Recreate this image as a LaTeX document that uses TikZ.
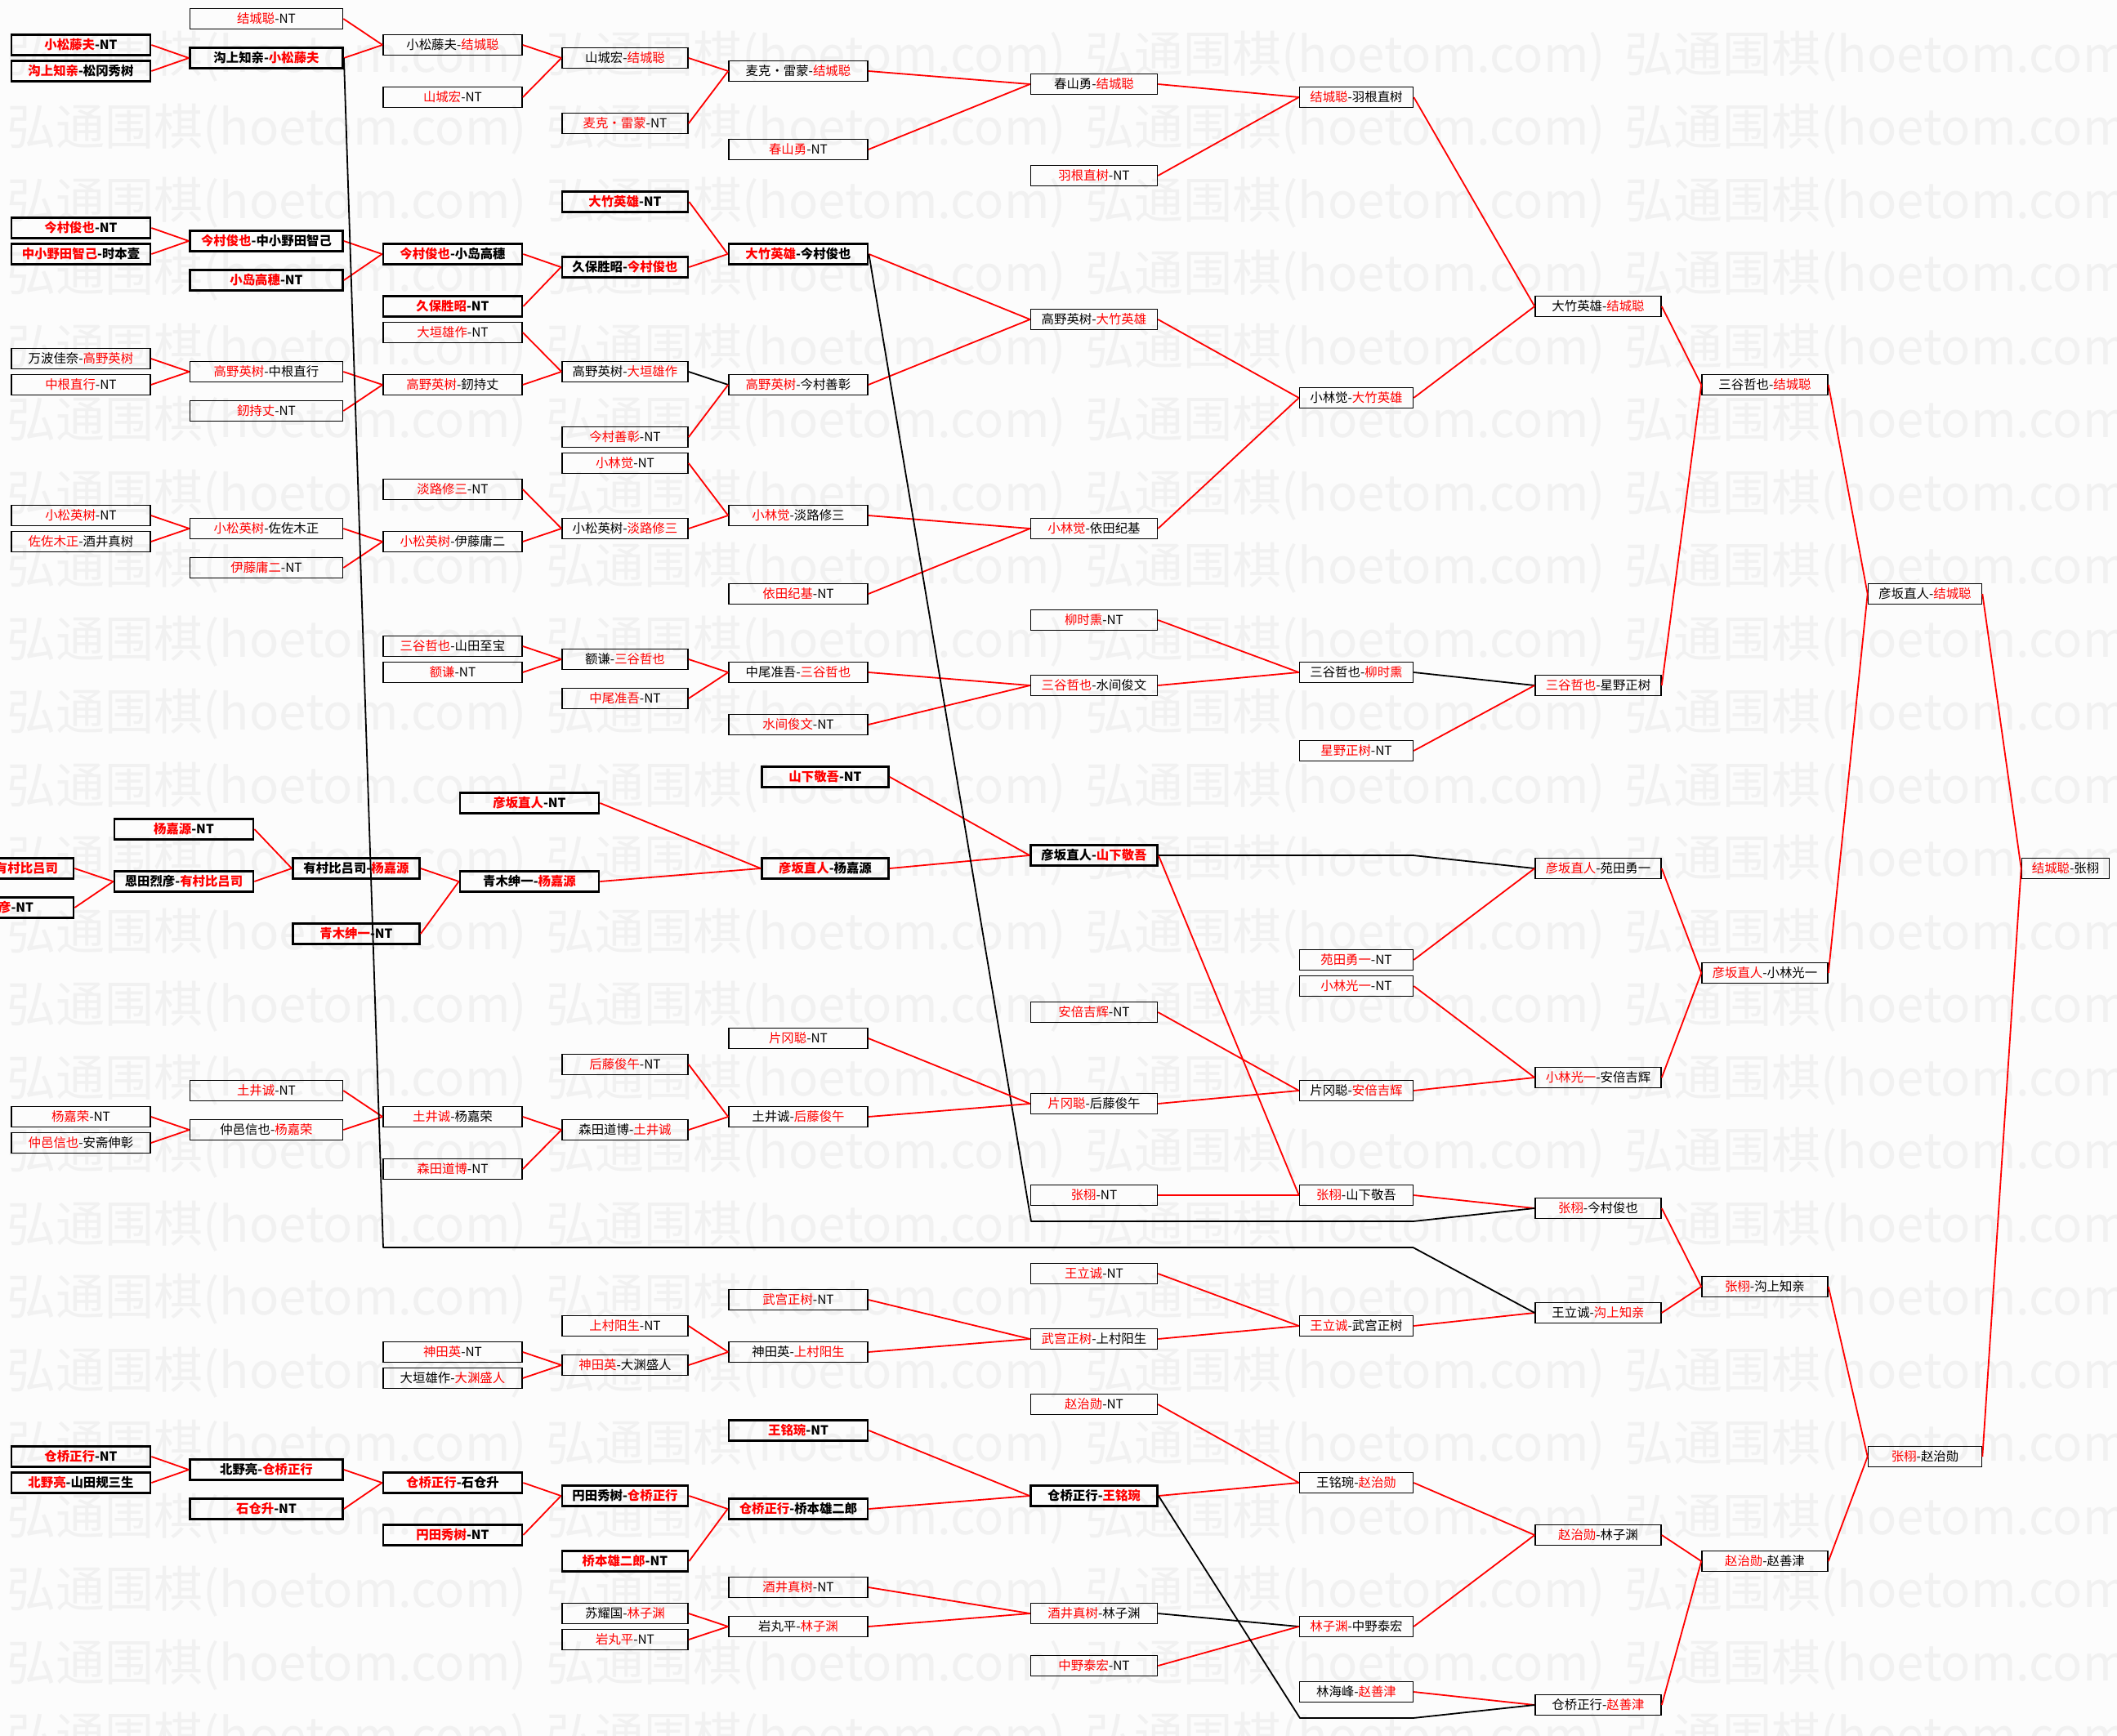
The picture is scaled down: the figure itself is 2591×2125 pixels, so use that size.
\documentclass[tikz,border=0pt]{standalone}
\usepackage{fontspec}
\setmainfont{Noto Sans CJK SC}
\usepackage{tikz}
\definecolor{cwin}{HTML}{FF0000}
\definecolor{cmark}{HTML}{F1F1F1}
\definecolor{cpaper}{HTML}{FCFCFC}
\newcommand{\wn}[1]{\textcolor{cwin}{#1}}
\newcommand{\mfont}{\fontsize{7.7pt}{9pt}\selectfont}
\tikzset{
  box/.style={draw, line width=0.8pt, inner sep=0pt, minimum height=12.5pt, font=\mfont},
  topb/.style={box, line width=1.4pt, font=\mfont\bfseries},
  colA/.style={minimum width=85pt},
  colB/.style={minimum width=93.5pt},
  colC/.style={minimum width=85pt},
  colD/.style={minimum width=77pt},
  colE/.style={minimum width=85pt},
  colF/.style={minimum width=77.5pt},
  colG/.style={minimum width=69.5pt},
  colH/.style={minimum width=77pt},
  colI/.style={minimum width=77pt},
  colJ/.style={minimum width=69.5pt},
  colK/.style={minimum width=53.5pt},
  rl/.style={draw=cwin, line width=0.9pt},
  bl/.style={draw=black, line width=0.9pt, line join=round},
  wm/.style={anchor=west, inner sep=0pt, text=cmark, font=\fontsize{30pt}{32pt}\selectfont},
}
\begin{document}
\begin{tikzpicture}[x=0.5pt,y=-0.5pt]
\useasboundingbox (0,0) rectangle (2591,2125);
\fill[cpaper] (0,0) rectangle (2591,2125);
\foreach \i in {0,...,3}
  \foreach \j in {0,...,23}
    \node[wm] (wm\i-\j) at (8+660*\i,69+89.5*\j) {弘通围棋(hoetom.com)};

\node[topb,colA] (a1) at (99,55) {\wn{小松藤夫}-NT};
\node[topb,colA] (a2) at (99,87) {\wn{沟上知亲}-松冈秀树};
\node[topb,colA] (a3) at (99,279) {\wn{今村俊也}-NT};
\node[topb,colA] (a4) at (99,311) {\wn{中小野田智己}-时本壹};
\node[box,colA] (a5) at (99,439) {万波佳奈-\wn{高野英树}};
\node[box,colA] (a6) at (99,471) {\wn{中根直行}-NT};
\node[box,colA] (a7) at (99,631) {\wn{小松英树}-NT};
\node[box,colA] (a8) at (99,663) {\wn{佐佐木正}-酒井真树};
\node[box,colA] (a9) at (99,1367) {\wn{杨嘉荣}-NT};
\node[box,colA] (a10) at (99,1399) {\wn{仲邑信也}-安斋伸彰};
\node[topb,colA] (a11) at (99,1783) {\wn{仓桥正行}-NT};
\node[topb,colA] (a12) at (99,1815) {\wn{北野亮}-山田规三生};

\node[box,colB] (b0) at (326,23) {\wn{结城聪}-NT};
\node[topb,colB] (b1) at (326,71) {沟上知亲-\wn{小松藤夫}};
\node[topb,colB] (b2) at (326,295) {\wn{今村俊也}-中小野田智己};
\node[topb,colB] (b3) at (326,343) {\wn{小岛高穗}-NT};
\node[box,colB] (b4) at (326,455) {\wn{高野英树}-中根直行};
\node[box,colB] (b5) at (326,503) {\wn{釰持丈}-NT};
\node[box,colB] (b6) at (326,647) {\wn{小松英树}-佐佐木正};
\node[box,colB] (b7) at (326,695) {\wn{伊藤庸二}-NT};
\node[box,colB] (b8) at (326,1335) {\wn{土井诚}-NT};
\node[box,colB] (b9) at (326,1383) {仲邑信也-\wn{杨嘉荣}};
\node[topb,colB] (b10) at (326,1799) {北野亮-\wn{仓桥正行}};
\node[topb,colB] (b11) at (326,1847) {\wn{石仓升}-NT};

\node[box,colC] (c1) at (554,55) {小松藤夫-\wn{结城聪}};
\node[box,colC] (c2) at (554,119) {\wn{山城宏}-NT};
\node[topb,colC] (c3) at (554,311) {\wn{今村俊也}-小岛高穗};
\node[topb,colC] (c4) at (554,375) {\wn{久保胜昭}-NT};
\node[box,colC] (c5) at (554,407) {\wn{大垣雄作}-NT};
\node[box,colC] (c6) at (554,471) {\wn{高野英树}-釰持丈};
\node[box,colC] (c7) at (554,599) {\wn{淡路修三}-NT};
\node[box,colC] (c8) at (554,663) {\wn{小松英树}-伊藤庸二};
\node[box,colC] (c9) at (554,791) {\wn{三谷哲也}-山田至宝};
\node[box,colC] (c10) at (554,823) {\wn{额谦}-NT};
\node[box,colC] (c11) at (554,1367) {\wn{土井诚}-杨嘉荣};
\node[box,colC] (c12) at (554,1431) {\wn{森田道博}-NT};
\node[box,colC] (c13) at (554,1655) {\wn{神田英}-NT};
\node[box,colC] (c14) at (554,1687) {大垣雄作-\wn{大渊盛人}};
\node[topb,colC] (c15) at (554,1815) {\wn{仓桥正行}-石仓升};
\node[topb,colC] (c16) at (554,1879) {\wn{円田秀树}-NT};

\node[box,colD] (d1) at (765,71) {山城宏-\wn{结城聪}};
\node[box,colD] (d2) at (765,151) {\wn{麦克・雷蒙}-NT};
\node[topb,colD] (d3) at (765,247) {\wn{大竹英雄}-NT};
\node[topb,colD] (d4) at (765,327) {久保胜昭-\wn{今村俊也}};
\node[box,colD] (d5) at (765,455) {高野英树-\wn{大垣雄作}};
\node[box,colD] (d6) at (765,535) {\wn{今村善彰}-NT};
\node[box,colD] (d7) at (765,567) {\wn{小林觉}-NT};
\node[box,colD] (d8) at (765,647) {小松英树-\wn{淡路修三}};
\node[box,colD] (d9) at (765,807) {额谦-\wn{三谷哲也}};
\node[box,colD] (d10) at (765,855) {\wn{中尾准吾}-NT};
\node[box,colD] (d11) at (765,1303) {\wn{后藤俊午}-NT};
\node[box,colD] (d12) at (765,1383) {森田道博-\wn{土井诚}};
\node[box,colD] (d13) at (765,1623) {\wn{上村阳生}-NT};
\node[box,colD] (d14) at (765,1671) {\wn{神田英}-大渊盛人};
\node[topb,colD] (d15) at (765,1831) {円田秀树-\wn{仓桥正行}};
\node[topb,colD] (d16) at (765,1911) {\wn{桥本雄二郎}-NT};
\node[box,colD] (d17) at (765,1975) {苏耀国-\wn{林子渊}};
\node[box,colD] (d18) at (765,2007) {\wn{岩丸平}-NT};

\node[box,colE] (e1) at (977,87) {麦克・雷蒙-\wn{结城聪}};
\node[box,colE] (e2) at (977,183) {\wn{春山勇}-NT};
\node[topb,colE] (e3) at (977,311) {\wn{大竹英雄}-今村俊也};
\node[box,colE] (e4) at (977,471) {\wn{高野英树}-今村善彰};
\node[box,colE] (e5) at (977,631) {\wn{小林觉}-淡路修三};
\node[box,colE] (e6) at (977,727) {\wn{依田纪基}-NT};
\node[box,colE] (e7) at (977,823) {中尾准吾-\wn{三谷哲也}};
\node[box,colE] (e8) at (977,887) {\wn{水间俊文}-NT};
\node[box,colE] (e9) at (977,1271) {\wn{片冈聪}-NT};
\node[box,colE] (e10) at (977,1367) {土井诚-\wn{后藤俊午}};
\node[box,colE] (e11) at (977,1591) {\wn{武宫正树}-NT};
\node[box,colE] (e12) at (977,1655) {神田英-\wn{上村阳生}};
\node[topb,colE] (e13) at (977,1751) {\wn{王铭琬}-NT};
\node[topb,colE] (e14) at (977,1847) {\wn{仓桥正行}-桥本雄二郎};
\node[box,colE] (e15) at (977,1943) {\wn{酒井真树}-NT};
\node[box,colE] (e16) at (977,1991) {岩丸平-\wn{林子渊}};

\node[box,colF] (f1) at (1339,103) {春山勇-\wn{结城聪}};
\node[box,colF] (f2) at (1339,215) {\wn{羽根直树}-NT};
\node[box,colF] (f3) at (1339,391) {高野英树-\wn{大竹英雄}};
\node[box,colF] (f4) at (1339,647) {\wn{小林觉}-依田纪基};
\node[box,colF] (f5) at (1339,759) {\wn{柳时熏}-NT};
\node[box,colF] (f6) at (1339,839) {\wn{三谷哲也}-水间俊文};
\node[topb,colF] (f7) at (1339,1047) {彦坂直人-\wn{山下敬吾}};
\node[box,colF] (f8) at (1339,1239) {\wn{安倍吉辉}-NT};
\node[box,colF] (f9) at (1339,1351) {\wn{片冈聪}-后藤俊午};
\node[box,colF] (f10) at (1339,1463) {\wn{张栩}-NT};
\node[box,colF] (f11) at (1339,1559) {\wn{王立诚}-NT};
\node[box,colF] (f12) at (1339,1639) {\wn{武宫正树}-上村阳生};
\node[box,colF] (f13) at (1339,1719) {\wn{赵治勋}-NT};
\node[topb,colF] (f14) at (1339,1831) {仓桥正行-\wn{王铭琬}};
\node[box,colF] (f15) at (1339,1975) {\wn{酒井真树}-林子渊};
\node[box,colF] (f16) at (1339,2039) {\wn{中野泰宏}-NT};

\node[box,colG] (g1) at (1660,119) {\wn{结城聪}-羽根直树};
\node[box,colG] (g2) at (1660,487) {小林觉-\wn{大竹英雄}};
\node[box,colG] (g3) at (1660,823) {三谷哲也-\wn{柳时熏}};
\node[box,colG] (g4) at (1660,919) {\wn{星野正树}-NT};
\node[box,colG] (g5) at (1660,1175) {\wn{苑田勇一}-NT};
\node[box,colG] (g6) at (1660,1207) {\wn{小林光一}-NT};
\node[box,colG] (g7) at (1660,1335) {片冈聪-\wn{安倍吉辉}};
\node[box,colG] (g8) at (1660,1463) {\wn{张栩}-山下敬吾};
\node[box,colG] (g9) at (1660,1623) {\wn{王立诚}-武宫正树};
\node[box,colG] (g10) at (1660,1815) {王铭琬-\wn{赵治勋}};
\node[box,colG] (g11) at (1660,1991) {\wn{林子渊}-中野泰宏};
\node[box,colG] (g12) at (1660,2071) {林海峰-\wn{赵善津}};

\node[box,colH] (h1) at (1956,375) {大竹英雄-\wn{结城聪}};
\node[box,colH] (h2) at (1956,839) {\wn{三谷哲也}-星野正树};
\node[box,colH] (h3) at (1956,1063) {\wn{彦坂直人}-苑田勇一};
\node[box,colH] (h4) at (1956,1319) {\wn{小林光一}-安倍吉辉};
\node[box,colH] (h5) at (1956,1479) {\wn{张栩}-今村俊也};
\node[box,colH] (h6) at (1956,1607) {王立诚-\wn{沟上知亲}};
\node[box,colH] (h7) at (1956,1879) {\wn{赵治勋}-林子渊};
\node[box,colH] (h8) at (1956,2087) {仓桥正行-\wn{赵善津}};

\node[box,colI] (i1) at (2160,471) {三谷哲也-\wn{结城聪}};
\node[box,colI] (i2) at (2160,1191) {\wn{彦坂直人}-小林光一};
\node[box,colI] (i3) at (2160,1575) {\wn{张栩}-沟上知亲};
\node[box,colI] (i4) at (2160,1911) {\wn{赵治勋}-赵善津};

\node[box,colJ] (j1) at (2356,727) {彦坂直人-\wn{结城聪}};
\node[box,colJ] (j2) at (2356,1783) {\wn{张栩}-赵治勋};
\node[box,colK] (k1) at (2528,1063) {\wn{结城聪}-张栩};

\node[topb,colA,text width=66pt,align=right] (l1) at (5,1063) {\wn{有村比吕司}};
\node[topb,colB] (l2) at (-3.5,1111) {\wn{恩田烈彦}-NT};
\node[topb,colA] (m1) at (225,1015) {\wn{杨嘉源}-NT};
\node[topb,colA] (m2) at (225,1079) {恩田烈彦-\wn{有村比吕司}};
\node[topb,colF] (n1) at (436,1063) {有村比吕司-\wn{杨嘉源}};
\node[topb,colF] (n2) at (436,1143) {\wn{青木绅一}-NT};
\node[topb,colA] (o1) at (648,983) {\wn{彦坂直人}-NT};
\node[topb,colA] (o2) at (648,1079) {青木绅一-\wn{杨嘉源}};
\node[topb,colF] (p1) at (1010,951) {\wn{山下敬吾}-NT};
\node[topb,colF] (p2) at (1010,1063) {\wn{彦坂直人}-杨嘉源};

\coordinate (q1) at (469,1527); \coordinate (q2) at (1729.5,1527);
\coordinate (q3) at (1262,1495); \coordinate (q4) at (1729.5,1495);
\coordinate (q5) at (1729.5,1047);
\coordinate (q6) at (1591,2103); \coordinate (q7) at (1729.5,2103);

\draw[rl] (a1.east) -- (b1.west); \draw[rl] (a2.east) -- (b1.west);
\draw[rl] (b0.east) -- (c1.west); \draw[rl] (b1.east) -- (c1.west);
\draw[rl] (c1.east) -- (d1.west); \draw[rl] (c2.east) -- (d1.west);
\draw[rl] (d1.east) -- (e1.west); \draw[rl] (d2.east) -- (e1.west);
\draw[rl] (e1.east) -- (f1.west); \draw[rl] (e2.east) -- (f1.west);
\draw[rl] (f1.east) -- (g1.west); \draw[rl] (f2.east) -- (g1.west);
\draw[rl] (g1.east) -- (h1.west); \draw[rl] (g2.east) -- (h1.west);
\draw[rl] (h1.east) -- (i1.west); \draw[rl] (h2.east) -- (i1.west);
\draw[rl] (i1.east) -- (j1.west); \draw[rl] (i2.east) -- (j1.west);
\draw[rl] (j1.east) -- (k1.west); \draw[rl] (j2.east) -- (k1.west);

\draw[rl] (a3.east) -- (b2.west); \draw[rl] (a4.east) -- (b2.west);
\draw[rl] (b2.east) -- (c3.west); \draw[rl] (b3.east) -- (c3.west);
\draw[rl] (c3.east) -- (d4.west); \draw[rl] (c4.east) -- (d4.west);
\draw[rl] (d3.east) -- (e3.west); \draw[rl] (d4.east) -- (e3.west);
\draw[rl] (e3.east) -- (f3.west); \draw[rl] (e4.east) -- (f3.west);
\draw[rl] (f3.east) -- (g2.west); \draw[rl] (f4.east) -- (g2.west);
\draw[rl] (a5.east) -- (b4.west); \draw[rl] (a6.east) -- (b4.west);
\draw[rl] (b4.east) -- (c6.west); \draw[rl] (b5.east) -- (c6.west);
\draw[rl] (c5.east) -- (d5.west); \draw[rl] (c6.east) -- (d5.west);
\draw[bl] (d5.east) -- (e4.west); \draw[rl] (d6.east) -- (e4.west);
\draw[rl] (a7.east) -- (b6.west); \draw[rl] (a8.east) -- (b6.west);
\draw[rl] (b6.east) -- (c8.west); \draw[rl] (b7.east) -- (c8.west);
\draw[rl] (c7.east) -- (d8.west); \draw[rl] (c8.east) -- (d8.west);
\draw[rl] (d7.east) -- (e5.west); \draw[rl] (d8.east) -- (e5.west);
\draw[rl] (e5.east) -- (f4.west); \draw[rl] (e6.east) -- (f4.west);
\draw[rl] (c9.east) -- (d9.west); \draw[rl] (c10.east) -- (d9.west);
\draw[rl] (d9.east) -- (e7.west); \draw[rl] (d10.east) -- (e7.west);
\draw[rl] (e7.east) -- (f6.west); \draw[rl] (e8.east) -- (f6.west);
\draw[rl] (f5.east) -- (g3.west); \draw[rl] (f6.east) -- (g3.west);
\draw[bl] (g3.east) -- (h2.west); \draw[rl] (g4.east) -- (h2.west);

\draw[rl] (l1.east) -- (m2.west); \draw[rl] (l2.east) -- (m2.west);
\draw[rl] (m1.east) -- (n1.west); \draw[rl] (m2.east) -- (n1.west);
\draw[rl] (n1.east) -- (o2.west); \draw[rl] (n2.east) -- (o2.west);
\draw[rl] (o1.east) -- (p2.west); \draw[rl] (o2.east) -- (p2.west);
\draw[rl] (p1.east) -- (f7.west); \draw[rl] (p2.east) -- (f7.west);
\draw[rl] (f7.east) -- (g8.west); \draw[rl] (f10.east) -- (g8.west);
\draw[bl] (f7.east) -- (q5) -- (h3.west); \draw[rl] (g5.east) -- (h3.west);
\draw[rl] (g8.east) -- (h5.west); \draw[bl] (e3.east) -- (q3) -- (q4) -- (h5.west);
\draw[rl] (a9.east) -- (b9.west); \draw[rl] (a10.east) -- (b9.west);
\draw[rl] (b8.east) -- (c11.west); \draw[rl] (b9.east) -- (c11.west);
\draw[rl] (c11.east) -- (d12.west); \draw[rl] (c12.east) -- (d12.west);
\draw[rl] (d11.east) -- (e10.west); \draw[rl] (d12.east) -- (e10.west);
\draw[rl] (e9.east) -- (f9.west); \draw[rl] (e10.east) -- (f9.west);
\draw[rl] (f8.east) -- (g7.west); \draw[rl] (f9.east) -- (g7.west);
\draw[rl] (g6.east) -- (h4.west); \draw[rl] (g7.east) -- (h4.west);
\draw[rl] (h3.east) -- (i2.west); \draw[rl] (h4.east) -- (i2.west);

\draw[rl] (c13.east) -- (d14.west); \draw[rl] (c14.east) -- (d14.west);
\draw[rl] (d13.east) -- (e12.west); \draw[rl] (d14.east) -- (e12.west);
\draw[rl] (e11.east) -- (f12.west); \draw[rl] (e12.east) -- (f12.west);
\draw[rl] (f11.east) -- (g9.west); \draw[rl] (f12.east) -- (g9.west);
\draw[rl] (g9.east) -- (h6.west); \draw[bl] (b1.east) -- (q1) -- (q2) -- (h6.west);
\draw[rl] (h5.east) -- (i3.west); \draw[rl] (h6.east) -- (i3.west);
\draw[rl] (i3.east) -- (j2.west); \draw[rl] (i4.east) -- (j2.west);

\draw[rl] (a11.east) -- (b10.west); \draw[rl] (a12.east) -- (b10.west);
\draw[rl] (b10.east) -- (c15.west); \draw[rl] (b11.east) -- (c15.west);
\draw[rl] (c15.east) -- (d15.west); \draw[rl] (c16.east) -- (d15.west);
\draw[rl] (d15.east) -- (e14.west); \draw[rl] (d16.east) -- (e14.west);
\draw[rl] (e13.east) -- (f14.west); \draw[rl] (e14.east) -- (f14.west);
\draw[rl] (f13.east) -- (g10.west); \draw[rl] (f14.east) -- (g10.west);
\draw[rl] (d17.east) -- (e16.west); \draw[rl] (d18.east) -- (e16.west);
\draw[rl] (e15.east) -- (f15.west); \draw[rl] (e16.east) -- (f15.west);
\draw[bl] (f15.east) -- (g11.west); \draw[rl] (f16.east) -- (g11.west);
\draw[rl] (g10.east) -- (h7.west); \draw[rl] (g11.east) -- (h7.west);
\draw[rl] (g12.east) -- (h8.west); \draw[bl] (f14.east) -- (q6) -- (q7) -- (h8.west);
\draw[rl] (h7.east) -- (i4.west); \draw[rl] (h8.east) -- (i4.west);
\end{tikzpicture}
\end{document}
